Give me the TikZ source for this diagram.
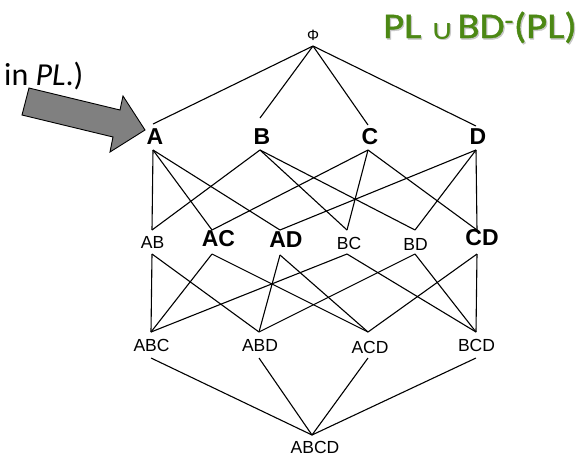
\documentclass[tikz,border=0pt]{standalone}
\usepackage{fontspec}
\usepackage{graphicx}
\setmainfont{Liberation Sans}
\newfontfamily\calibri{Carlito}
\newfontfamily\calibriheavy[FakeBold=1.2]{Carlito}
\newfontfamily\symfont{DejaVu Sans}
\definecolor{titlegreen}{RGB}{76,136,20}
\definecolor{arrowgray}{RGB}{128,128,128}

% label fonts of the lattice
\newcommand\latbold{\fontsize{23}{23}\selectfont\bfseries}
\newcommand\latreg{\fontsize{17.5}{17.5}\selectfont}

% lattice node: name, x, y of upper line end, y of lower line end,
% horizontal text offset (doubled), vertical text offset, text
\newcommand\latnode[7]{%
  \node[lat, minimum height={#4-#3}] (#1) at (#2,{(#3+#4)/2})
    {\makebox[0pt]{\hspace*{#5pt}\raisebox{#6pt}[\height][\depth]{#7}}};}

% union sign of the title
\newcommand\titlecup{\raisebox{-1pt}{\resizebox{21pt}{16pt}{\symfont ∪}}}
% title text, stretched a little in width
\newcommand\titletext{\calibriheavy\fontsize{36}{36}\selectfont
  \scalebox{1.13}[1]{PL\hspace{8pt}\titlecup\hspace{3pt}BD\textsuperscript{-}(PL)}}

\begin{document}
\begin{tikzpicture}[x=1pt,y=-1pt,
  lat/.style={inner sep=0pt, outer sep=0pt, minimum width=0pt},
  edge/.style={draw=black, line width=1.1pt},
  callout/.style={fill=arrowgray, draw=black, line width=0.9pt, line join=miter}]
\useasboundingbox (0,0) rectangle (587,456);
\fill[white] (0,0) rectangle (587,456);

% top element
\latnode{Phi}{313}{24}{46}{0}{0}{\fontsize{15}{15}\selectfont Φ}
% singletons
\latnode{A}{153}{124}{150}{4}{0}{\latbold A}
\latnode{B}{260}{118}{150}{4}{-2.5}{\latbold B}
\latnode{C}{368}{125}{150}{4}{0.5}{\latbold C}
\latnode{D}{476}{126}{150}{4}{1}{\latbold D}
% pairs
\latnode{AB}{152}{230}{254}{1}{0}{\latreg AB}
\latnode{AC}{212}{230}{254}{13}{3}{\latbold AC}
\latnode{AD}{280}{230}{255}{12}{3}{\latbold AD}
\latnode{BC}{347}{230}{254}{4}{-1}{\latreg BC}
\latnode{BD}{415}{230}{254}{1}{-2}{\latreg BD}
\latnode{CD}{477}{230}{254}{10}{4}{\latbold CD}
% triples
\latnode{ABC}{151}{332}{358}{1}{0}{\latreg ABC}
\latnode{ABD}{259}{332}{358}{2}{0}{\latreg ABD}
\latnode{ACD}{368}{332}{358}{4}{-2}{\latreg ACD}
\latnode{BCD}{476}{332}{358}{1}{0}{\latreg BCD}
% bottom element
\latnode{ABCD}{312}{435}{459}{6}{0}{\latreg ABCD}

% covering relations
\foreach \s in {A,B,C,D} \draw[edge] (Phi.south) -- (\s.north);
\foreach \a/\b in {A/AB,A/AC,A/AD,B/AB,B/BC,B/BD,C/AC,C/BC,C/CD,D/AD,D/BD,D/CD}
  \draw[edge] (\a.south) -- (\b.north);
\foreach \a/\b in {AB/ABC,AB/ABD,AC/ABC,AC/ACD,AD/ABD,AD/ACD,BC/ABC,BC/BCD,BD/ABD,BD/BCD,CD/ACD,CD/BCD}
  \draw[edge] (\a.south) -- (\b.north);
\foreach \s in {ABC,ABD,ACD,BCD} \draw[edge] (\s.south) -- (ABCD.north);

% title with a soft shadow
\node[anchor=base west, inner sep=0pt, text=black!22] at (384.2,39.4) {\titletext};
\node[anchor=base west, inner sep=0pt, text=titlegreen] (title) at (383,38) {\titletext};

% trailing words of the caption
\node[anchor=base west, inner sep=0pt] (note) at (4,85)
  {\calibri\fontsize{32}{32}\selectfont in \textit{PL}.)};

% block arrow pointing at A
\draw[callout] (29,88) -- (120,110) -- (123,96) -- (145,130) -- (110,152)
  -- (113,137) -- (22,115) -- cycle;
\end{tikzpicture}
\end{document}
